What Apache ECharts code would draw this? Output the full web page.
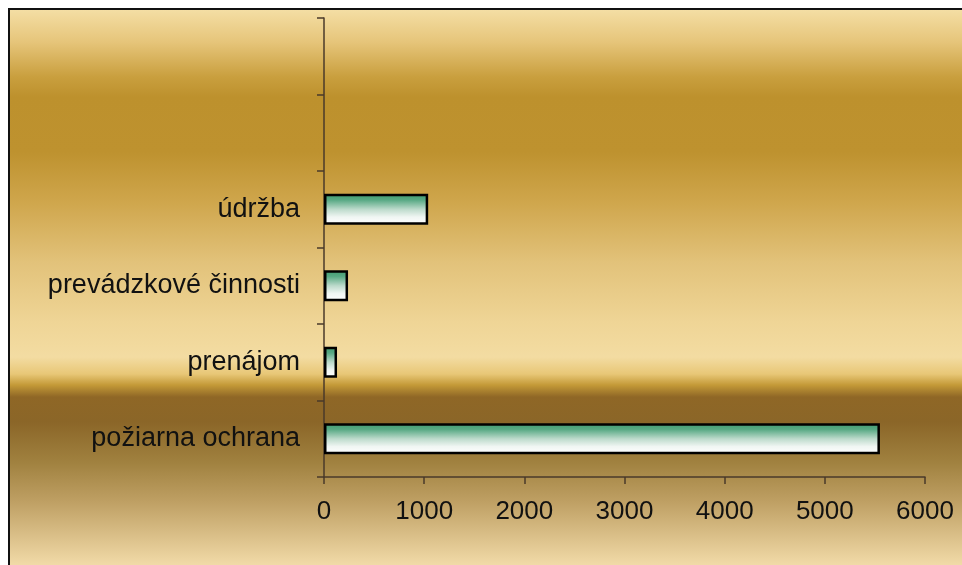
<!DOCTYPE html>
<html>
<head>
<meta charset="utf-8">
<script src="https://cdn.jsdelivr.net/npm/echarts@6/dist/echarts.min.js"></script>
<style>
html,body{margin:0;padding:0;background:#fff;}
#wrap{position:absolute;left:0;top:0;width:962px;height:565px;overflow:hidden;}
#bg{position:absolute;left:8px;top:8px;right:0;bottom:0;border-left:2px solid #111;border-top:2px solid #111;
background:linear-gradient(to bottom,
#f4dea4 0px,#e6c57a 32px,#c99f3e 67px,#bd912d 87px,#be922f 142px,#cfa64c 192px,#e2c27a 252px,#efd596 312px,
#f3dca2 347px,#e8c777 364px,#c49a38 375px,#8f6726 387px,#8b6628 412px,#a0813f 452px,#bfa064 492px,#dfc58f 532px,#f3dcaa 557px);}
#chart{position:absolute;left:0;top:0;width:962px;height:565px;}
</style>
</head>
<body>
<div id="wrap"><div id="bg"></div><div id="chart"></div></div>
<script>
const categories = ['požiarna ochrana', 'prenájom', 'prevádzkové činnosti', 'údržba', '', ''];
const values = [5550, 130, 240, 1040, null, null];
const xTicks = [0, 1000, 2000, 3000, 4000, 5000, 6000];

const chart = echarts.init(document.getElementById('chart'), null, {renderer: 'canvas'});
const axisColor = '#4a3a2a';
chart.setOption({
  backgroundColor: 'transparent',
  animation: false,
  grid: {left: 324, right: 37, top: 18, bottom: 88, containLabel: false},
  xAxis: {
    type: 'value', min: xTicks[0], max: xTicks[xTicks.length - 1], interval: 1000,
    axisLine: {show: true, lineStyle: {color: axisColor, width: 1.5}},
    axisTick: {show: true, length: 7, lineStyle: {color: axisColor, width: 1.5}},
    splitLine: {show: false},
    axisLabel: {margin: 22, fontFamily: 'Liberation Sans, Arial, sans-serif', fontSize: 26, color: '#111',
      formatter: function (v) { return String(v); }}
  },
  yAxis: {
    type: 'category', data: categories, boundaryGap: true,
    axisLine: {show: true, lineStyle: {color: axisColor, width: 1.5}},
    axisTick: {show: true, length: 7, alignWithLabel: false, lineStyle: {color: axisColor, width: 1.5}},
    axisLabel: {margin: 24, fontFamily: 'Liberation Sans, Arial, sans-serif', fontSize: 27, color: '#111'}
  },
  series: [{
    type: 'bar', data: values, barWidth: 31,
    itemStyle: {
      borderColor: '#000', borderWidth: 2.5,
      color: new echarts.graphic.LinearGradient(0, 0, 0, 1, [
        {offset: 0, color: '#3f9a6e'},
        {offset: 0.2, color: '#58a984'},
        {offset: 0.5, color: '#bcdacb'},
        {offset: 0.75, color: '#f0f6f3'},
        {offset: 1, color: '#ffffff'}
      ])
    }
  }]
});
</script>
</body>
</html>
